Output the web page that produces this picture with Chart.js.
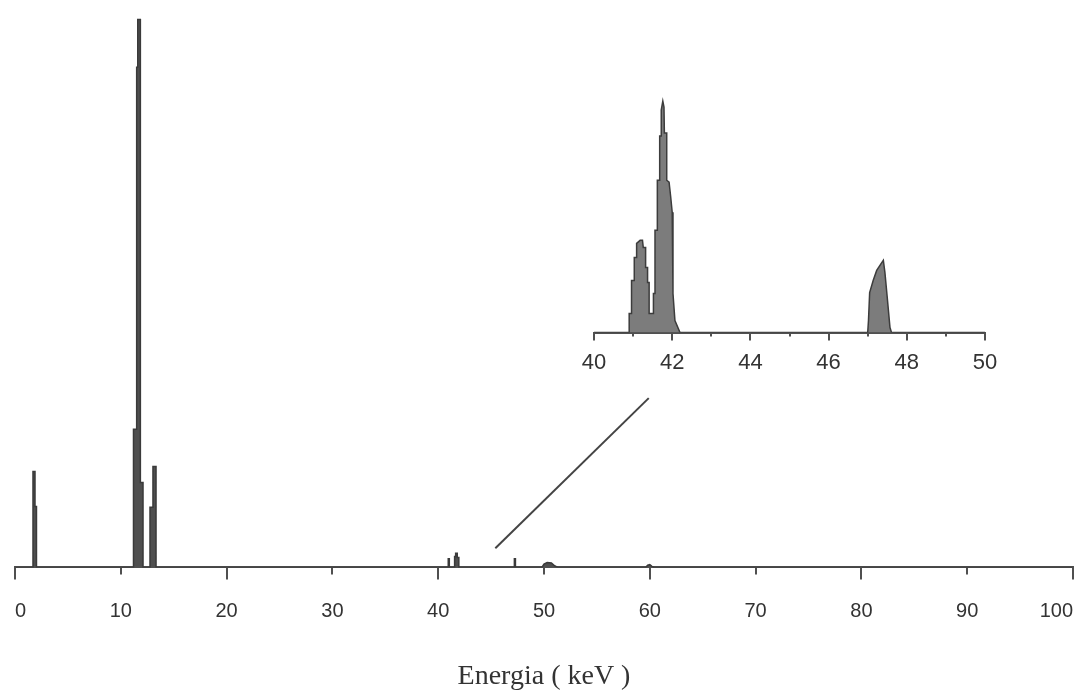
<!DOCTYPE html>
<html>
<head>
<meta charset="utf-8">
<script src="https://cdn.jsdelivr.net/npm/chart.js@4.4.1/dist/chart.umd.min.js"></script>
<style>
  html, body { margin: 0; padding: 0; background: #ffffff; overflow: hidden; }
  #wrap { position: relative; width: 1084px; height: 697px; overflow: hidden; }
  #main { position: absolute; left: -15px; top: 0; }
  #inset { position: absolute; left: 560px; top: 80px; }
</style>
</head>
<body>
<div id="wrap">
  <canvas id="main" width="1118" height="697"></canvas>
  <canvas id="inset" width="460" height="319"></canvas>
</div>
<script>
// ---- Main spectrum (energy keV, counts arbitrary units) ----
const mainEnergy = [0, 1.7, 1.7, 1.89, 1.89, 2.03, 2.03,
  11.2, 11.2, 11.5, 11.5, 11.6, 11.6, 11.85, 11.85, 12.1, 12.1,
  12.76, 12.76, 13.04, 13.04, 13.33, 13.33,
  40.95, 40.95, 41.05, 41.05,
  41.55, 41.55, 41.65, 41.65, 41.8, 41.8, 41.95, 41.95,
  47.2, 47.2, 47.3, 47.3,
  49.8, 50.0, 50.3, 50.7, 51.0, 51.3,
  59.6, 59.8, 60.0, 60.2, 60.4, 100];
const mainCounts = [0, 0, 175, 175, 111, 111, 0,
  0, 252, 252, 913, 913, 1000, 1000, 155, 155, 0,
  0, 110, 110, 184, 184, 0,
  0, 16, 16, 0,
  0, 20, 20, 26, 26, 18, 18, 0,
  0, 16, 16, 0,
  0, 6, 9, 8, 3, 0,
  0, 4, 5, 2, 0, 0];

// connector line from the 41-47 keV region up to the inset
const connectorEnergy = [45.4, 59.9];
const connectorCounts = [35, 309];

// ---- Inset spectrum, 40-50 keV ----
const insetEnergy = [40, 40.90, 40.90, 40.96, 40.96, 41.03, 41.03, 41.09, 41.09, 41.18, 41.24,
  41.26, 41.32, 41.32, 41.37, 41.37, 41.41, 41.41, 41.52, 41.52, 41.56, 41.56, 41.62, 41.62,
  41.68, 41.68, 41.72, 41.72, 41.76, 41.79, 41.80, 41.86, 41.86, 41.92, 41.96, 42.00, 42.02,
  42.07, 42.20, 47.00, 47.02, 47.05, 47.14, 47.23, 47.33, 47.40, 47.44, 47.50, 47.57, 47.61, 50];
const insetCounts = [0, 0, 19, 19, 52, 52, 75, 75, 89, 92, 92,
  85, 85, 65, 65, 50, 50, 19, 19, 39, 39, 102, 102, 152,
  152, 196, 196, 222, 231, 225, 199, 199, 152, 150, 136, 120, 39,
  12, 0, 0, 12, 40, 52, 62, 68, 72, 60, 35, 5, 0, 0];

// ---- Ticks ----
const mainTickStep = 10;
const mainMajorTicks = [0, 20, 40, 60, 80, 100];
const insetTickStep = 1;
const insetMajorTicks = [40, 42, 44, 46, 48, 50];

const toXY = (xs, ys) => xs.map((x, i) => ({ x: x, y: ys[i] }));

const majorTickPlugin = {
  id: 'majorTicks',
  afterDraw(chart, args, opts) {
    const s = chart.scales.x;
    const ctx = chart.ctx;
    ctx.save();
    ctx.strokeStyle = opts.color;
    ctx.lineWidth = opts.width;
    opts.values.forEach(v => {
      const px = Math.round(s.getPixelForValue(v));
      ctx.beginPath();
      ctx.moveTo(px, s.top);
      ctx.lineTo(px, s.top + opts.length);
      ctx.stroke();
    });
    ctx.restore();
  }
};

const axisColor = '#505050';

new Chart(document.getElementById('main'), {
  type: 'line',
  data: {
    datasets: [
      {
        label: 'Spettro',
        data: toXY(mainEnergy, mainCounts),
        borderColor: '#3a3a3a',
        backgroundColor: '#4f4f4f',
        borderWidth: 1.5,
        fill: 'origin',
        pointRadius: 0,
        tension: 0
      },
      {
        label: 'Connettore',
        data: toXY(connectorEnergy, connectorCounts),
        borderColor: '#444444',
        borderWidth: 2,
        fill: false,
        pointRadius: 0,
        tension: 0
      }
    ]
  },
  options: {
    responsive: false,
    animation: false,
    layout: { padding: { left: 30, right: 30, top: 14, bottom: 4 } },
    plugins: {
      legend: { display: false },
      tooltip: { enabled: false },
      majorTicks: { values: mainMajorTicks, length: 12, color: axisColor, width: 2 }
    },
    scales: {
      x: {
        type: 'linear',
        min: 0,
        max: 100,
        border: { display: true, color: axisColor, width: 2 },
        grid: { drawOnChartArea: false, drawTicks: true, tickLength: 7, color: axisColor, lineWidth: 2 },
        ticks: {
          stepSize: mainTickStep,
          autoSkip: false,
          maxRotation: 0,
          align: 'inner',
          padding: 25,
          color: '#333333',
          font: { family: 'Liberation Sans', size: 20 }
        },
        title: {
          display: true,
          text: 'Energia ( keV )',
          color: '#333333',
          font: { family: 'Liberation Serif', size: 28 },
          padding: { top: 11, bottom: 0 }
        }
      },
      y: {
        type: 'linear',
        display: false,
        min: 0,
        max: 1010
      }
    }
  },
  plugins: [majorTickPlugin]
});

new Chart(document.getElementById('inset'), {
  type: 'line',
  data: {
    datasets: [
      {
        label: 'Ingrandimento 40-50 keV',
        data: toXY(insetEnergy, insetCounts),
        borderColor: '#3c3c3c',
        backgroundColor: '#7c7c7c',
        borderWidth: 1.5,
        fill: 'origin',
        pointRadius: 0,
        tension: 0
      }
    ]
  },
  options: {
    responsive: false,
    animation: false,
    layout: { padding: { left: 34, right: 35, top: 12, bottom: 10 } },
    plugins: {
      legend: { display: false },
      tooltip: { enabled: false },
      majorTicks: { values: insetMajorTicks, length: 8, color: axisColor, width: 2 }
    },
    scales: {
      x: {
        type: 'linear',
        min: 40,
        max: 50,
        border: { display: true, color: axisColor, width: 2 },
        grid: { drawOnChartArea: false, drawTicks: true, tickLength: 4, color: axisColor, lineWidth: 2 },
        ticks: {
          stepSize: insetTickStep,
          autoSkip: false,
          maxRotation: 0,
          padding: 13,
          color: '#333333',
          font: { family: 'Liberation Sans', size: 22 },
          callback: (v) => (v % 2 === 0 ? String(v) : '')
        }
      },
      y: {
        type: 'linear',
        display: false,
        min: 0,
        max: 240
      }
    }
  },
  plugins: [majorTickPlugin]
});
</script>
</body>
</html>
